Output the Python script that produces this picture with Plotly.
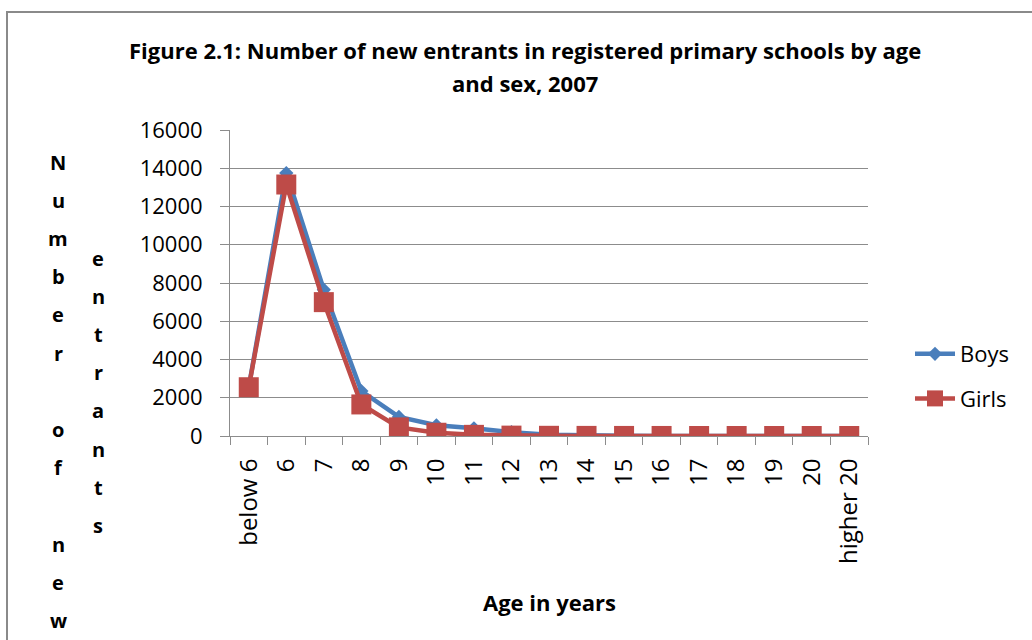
import plotly.graph_objects as go

# Ages of new entrants (categories) and counts by sex
ages = ["below 6", "6", "7", "8", "9", "10", "11", "12", "13", "14",
        "15", "16", "17", "18", "19", "20", "higher 20"]
boys = [2550, 13750, 7650, 2350, 1000, 560, 400, 200, 60, 20,
        10, 5, 5, 3, 2, 1, 1]
girls = [2550, 13150, 7000, 1650, 450, 170, 60, 20, 10, 5,
         3, 2, 1, 1, 0, 0, 0]
y_ticks = [0, 2000, 4000, 6000, 8000, 10000, 12000, 14000, 16000]

title_lines = ["Figure 2.1: Number of new entrants in registered primary schools by age",
               "and sex, 2007"]
x_title = "Age in years"
y_title_cols = ["Number of new", "entrants"]

W, H = 1032, 640
L, R, T, B = 230, 868, 130, 436   # plot area edges in pixels


def px(x):
    return (x - L) / (R - L)


def py(y):
    return (B - y) / (B - T)


FONT = "Open Sans"
BLUE = "#4a7ebb"
RED = "#be4b48"
GRID = "#8c8c8c"

fig = go.Figure()
fig.add_trace(go.Scatter(
    x=ages, y=boys, name="Boys", mode="lines+markers",
    line=dict(color=BLUE, width=4.5),
    marker=dict(symbol="diamond", size=11, color=BLUE),
    legendgroup="b",
))
fig.add_trace(go.Scatter(
    x=ages, y=girls, name="Girls", mode="lines+markers",
    line=dict(color=RED, width=4.5),
    marker=dict(symbol="square", size=20, color=RED),
    legendgroup="g",
))

annotations = []
for i, line in enumerate(title_lines):
    annotations.append(dict(
        text="<b>%s</b>" % line, xref="paper", yref="paper",
        x=px(525), y=py(50 + 33 * i), showarrow=False,
        font=dict(family=FONT, size=22, color="#000000"),
        xanchor="center", yanchor="middle",
    ))

annotations.append(dict(
    text="<b>%s</b>" % x_title, xref="paper", yref="paper",
    x=px(549), y=py(602), showarrow=False,
    font=dict(family=FONT, size=22, color="#000000"),
    xanchor="center", yanchor="middle",
))

# Stacked, upright letters of the value-axis title in two columns
col_x = [58, 98]
col_y0 = [162, 258]
step = 38.2
for c, word in enumerate(y_title_cols):
    for k, ch in enumerate(word):
        if ch == " ":
            continue
        annotations.append(dict(
            text="<b>%s</b>" % ch, xref="paper", yref="paper",
            x=px(col_x[c]), y=py(col_y0[c] + step * k), showarrow=False,
            font=dict(family=FONT, size=20, color="#000000"),
            xanchor="center", yanchor="middle",
        ))

fig.update_layout(
    width=W, height=H,
    margin=dict(l=L, r=W - R, t=T, b=H - B, pad=0),
    paper_bgcolor="white", plot_bgcolor="white",
    showlegend=True,
    legend=dict(
        x=px(910), y=py(333), xanchor="left", yanchor="top",
        font=dict(family=FONT, size=22, color="#000000"),
        tracegroupgap=13, traceorder="grouped",
        bgcolor="rgba(0,0,0,0)", itemwidth=40,
    ),
    annotations=annotations,
    shapes=[dict(
        type="rect", xref="paper", yref="paper",
        x0=px(7), x1=px(1045), y0=py(12), y1=py(660),
        line=dict(color="#8a8a8a", width=2), fillcolor="rgba(0,0,0,0)",
        layer="below",
    )],
)

fig.update_xaxes(
    type="category", tickangle=-90,
    tickfont=dict(family=FONT, size=24, color="#000000"),
    showline=True, linecolor=GRID, linewidth=1,
    ticks="outside", tickson="boundaries", ticklen=8, tickcolor=GRID,
    showgrid=False, zeroline=False, ticklabelstandoff=12,
    range=[-0.5, len(ages) - 0.5],
)
fig.update_yaxes(
    range=[0, 16000], tickvals=y_ticks,
    ticktext=[str(v) for v in y_ticks],
    tickfont=dict(family=FONT, size=22, color="#000000"),
    showline=True, linecolor=GRID, linewidth=1,
    ticks="outside", ticklen=9, tickcolor=GRID,
    showgrid=True, gridcolor=GRID, gridwidth=1,
    zeroline=False, ticklabelstandoff=13,
)

fig.write_html("out.html")
